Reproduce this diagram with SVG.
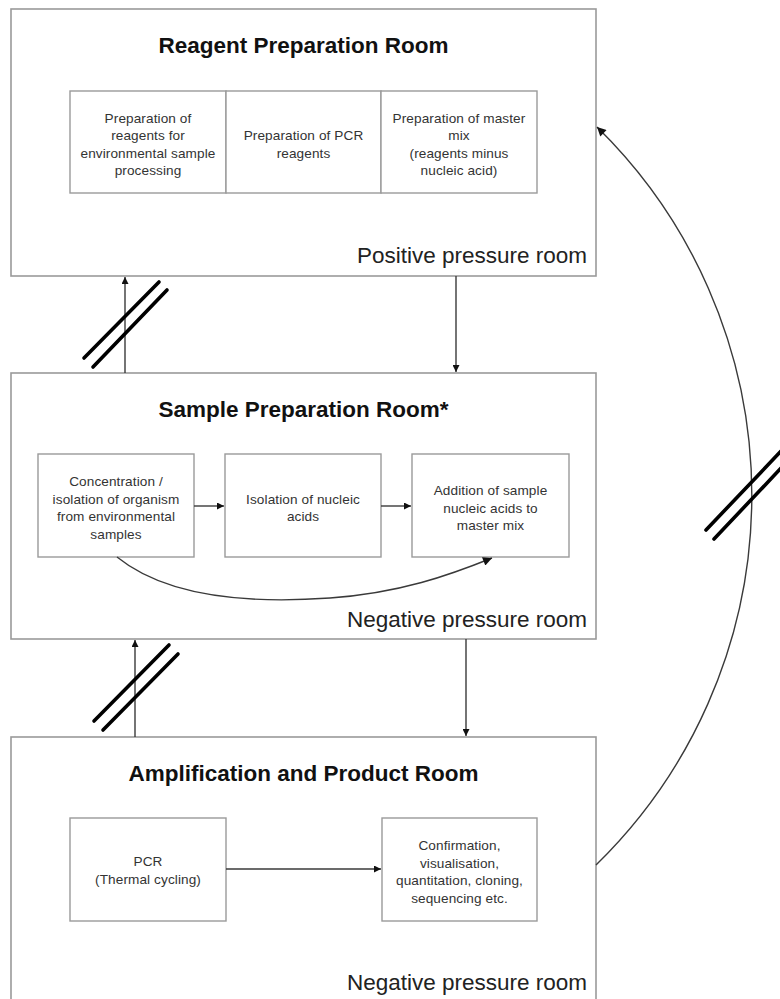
<svg xmlns="http://www.w3.org/2000/svg" width="780" height="999" viewBox="0 0 780 999">
<defs>
<style>
.room{fill:#fff;stroke:#9a9a9a;stroke-width:1.6}
.box{fill:#fff;stroke:#9a9a9a;stroke-width:1.4}
.title{font-family:"Liberation Sans",Arial,sans-serif;font-weight:bold;font-size:22.5px;fill:#111;text-anchor:middle}
.press{font-family:"Liberation Sans",Arial,sans-serif;font-size:22.5px;fill:#222;text-anchor:end}
.t{font-family:"Liberation Sans",Arial,sans-serif;font-size:13.6px;letter-spacing:0.1px;fill:#333;text-anchor:middle}
.con{fill:none;stroke:#3a3a3a;stroke-width:1.4}
.slash{stroke:#000;stroke-width:3.6;stroke-linecap:round}
</style>
<marker id="ah" viewBox="0 0 10 10" refX="10" refY="5" markerWidth="8" markerHeight="7" markerUnits="userSpaceOnUse" orient="auto">
<path d="M0,0 L10,5 L0,10 Z" fill="#111"/>
</marker>
<marker id="ahb" viewBox="0 0 10 10" refX="10" refY="5" markerWidth="10" markerHeight="9" markerUnits="userSpaceOnUse" orient="auto">
<path d="M0,0 L10,5 L0,10 Z" fill="#111"/>
</marker>
</defs>
<rect width="780" height="999" fill="#fff"/>

<g id="room-reagent">
<rect class="room" x="11" y="9" width="585" height="267"/>
<text class="title" x="303.5" y="53">Reagent Preparation Room</text>
<text class="press" x="587" y="263">Positive pressure room</text>
</g>
<g id="box-reagents-env">
<rect class="box" x="70" y="91" width="156" height="102"/>
<text class="t" x="148" y="122.5">Preparation of</text>
<text class="t" x="148" y="140">reagents for</text>
<text class="t" x="148" y="157.5">environmental sample</text>
<text class="t" x="148" y="175">processing</text>
</g>
<g id="box-pcr-reagents">
<rect class="box" x="226" y="91" width="155" height="102"/>
<text class="t" x="303.5" y="140">Preparation of PCR</text>
<text class="t" x="303.5" y="157.5">reagents</text>
</g>
<g id="box-master-mix">
<rect class="box" x="381" y="91" width="156" height="102"/>
<text class="t" x="459" y="122.5">Preparation of master</text>
<text class="t" x="459" y="140">mix</text>
<text class="t" x="459" y="157.5">(reagents minus</text>
<text class="t" x="459" y="175">nucleic acid)</text>
</g>

<g id="room-sample">
<rect class="room" x="11" y="373" width="585" height="266"/>
<text class="title" x="303.5" y="417">Sample Preparation Room*</text>
<text class="press" x="587" y="627">Negative pressure room</text>
</g>
<g id="box-concentration">
<rect class="box" x="38" y="454" width="156" height="103"/>
<text class="t" x="116" y="486">Concentration /</text>
<text class="t" x="116" y="503.5">isolation of organism</text>
<text class="t" x="116" y="521">from environmental</text>
<text class="t" x="116" y="538.5">samples</text>
</g>
<g id="box-isolation">
<rect class="box" x="225" y="454" width="156" height="103"/>
<text class="t" x="303" y="503.5">Isolation of nucleic</text>
<text class="t" x="303" y="521">acids</text>
</g>
<g id="box-addition">
<rect class="box" x="412" y="454" width="157" height="103"/>
<text class="t" x="490.5" y="495">Addition of sample</text>
<text class="t" x="490.5" y="512.5">nucleic acids to</text>
<text class="t" x="490.5" y="530">master mix</text>
</g>

<g id="room-amplification">
<rect class="room" x="11" y="737" width="585" height="275"/>
<text class="title" x="303.5" y="781">Amplification and Product Room</text>
<text class="press" x="587" y="990">Negative pressure room</text>
</g>
<g id="box-pcr">
<rect class="box" x="70" y="818" width="156" height="103"/>
<text class="t" x="148" y="866">PCR</text>
<text class="t" x="148" y="884">(Thermal cycling)</text>
</g>
<g id="box-confirmation">
<rect class="box" x="382" y="818" width="155" height="103"/>
<text class="t" x="459.5" y="850">Confirmation,</text>
<text class="t" x="459.5" y="867.5">visualisation,</text>
<text class="t" x="459.5" y="885">quantitation, cloning,</text>
<text class="t" x="459.5" y="902.5">sequencing etc.</text>
</g>

<g id="connectors">
<line class="con" x1="125" y1="373" x2="125" y2="277" marker-end="url(#ah)"/>
<line class="con" x1="456" y1="276" x2="456" y2="372" marker-end="url(#ah)"/>
<line class="con" x1="135" y1="737" x2="135" y2="640" marker-end="url(#ah)"/>
<line class="con" x1="466" y1="639" x2="466" y2="736" marker-end="url(#ah)"/>
<line class="con" x1="194" y1="506" x2="224" y2="506" marker-end="url(#ah)"/>
<line class="con" x1="381" y1="506" x2="411" y2="506" marker-end="url(#ah)"/>
<line class="con" x1="226" y1="869" x2="381" y2="869" marker-end="url(#ah)"/>
<path class="con" d="M117,557 C170,600 260,603 330,598 C400,593 450,575 492,558" marker-end="url(#ahb)"/>
<path class="con" d="M596,865 A516,516 0 0 0 597,127" marker-end="url(#ahb)"/>
<line class="slash" x1="84" y1="358" x2="159" y2="282"/>
<line class="slash" x1="93" y1="367" x2="167" y2="290"/>
<line class="slash" x1="94" y1="721" x2="169" y2="645"/>
<line class="slash" x1="103" y1="730" x2="178" y2="654"/>
<line class="slash" x1="706" y1="530" x2="784" y2="448"/>
<line class="slash" x1="714" y1="539" x2="784" y2="465"/>
</g>
</svg>
